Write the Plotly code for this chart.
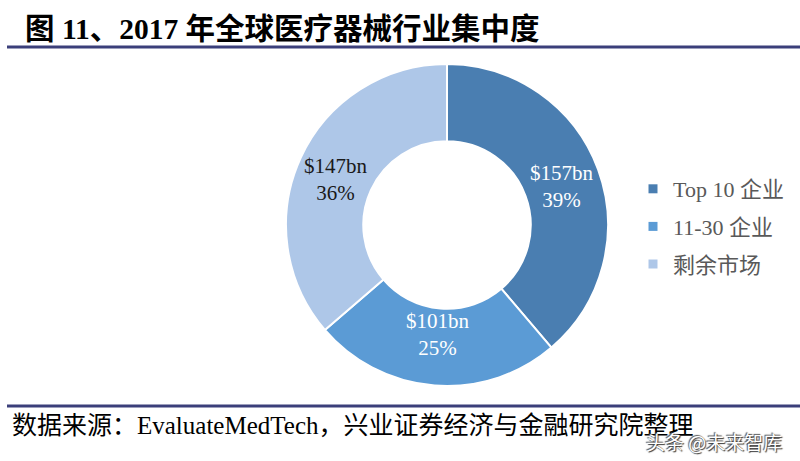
import math
import plotly.graph_objects as go

categories = ["Top 10 企业", "11-30 企业", "剩余市场"]
values = [157, 101, 147]
labels_text = ["$157bn<br>39%", "$101bn<br>25%", "$147bn<br>36%"]
colors = ["#4A7EB1", "#5B9BD5", "#AEC7E8"]
text_colors = ["#FFFFFF", "#FFFFFF", "#1A1A1A"]

W, H = 800, 461
cx, cy, r = 447, 225, 161
HOLE = 0.52
FONT = "Liberation Serif, Noto Sans CJK SC"

fig = go.Figure()
fig.add_trace(go.Pie(
    labels=categories,
    values=values,
    textinfo="none",
    hole=HOLE,
    sort=False,
    direction="clockwise",
    rotation=0,
    showlegend=False,
    marker=dict(colors=colors, line=dict(color="#FFFFFF", width=2)),
    domain=dict(x=[(cx - r) / W, (cx + r) / W], y=[1 - (cy + r) / H, 1 - (cy - r) / H]),
    hoverinfo="label+value+percent",
))

# legend entries (one per category)
for i, (cat, col) in enumerate(zip(categories, colors)):
    fig.add_trace(go.Scatter(
        x=[None], y=[None], mode="markers", name=cat,
        marker=dict(symbol="square", size=9, color=col),
        legendgroup=f"g{i}", showlegend=True, hoverinfo="skip",
    ))

# slice labels placed at each slice's mid-angle, derived from the values
total = sum(values)
label_r = r * 0.76
annotations = []
cum = 0.0
for v, txt, tc in zip(values, labels_text, text_colors):
    mid = (cum + v / 2) / total * 2 * math.pi
    cum += v
    px = cx + label_r * math.sin(mid)
    py = cy - label_r * math.cos(mid) * 0.9
    annotations.append(dict(
        text=txt, xref="paper", yref="paper", x=px / W, y=1 - py / H,
        xanchor="center", yanchor="middle", showarrow=False, align="center",
        font=dict(family=FONT, size=21, color=tc),
    ))

annotations += [
    dict(text="<b>图 11、2017 年全球医疗器械行业集中度</b>", xref="paper", yref="paper",
         x=23 / W, y=1 - 29 / H, xanchor="left", yanchor="middle", showarrow=False,
         font=dict(family=FONT, size=29.5, color="#000000")),
    dict(text="数据来源：EvaluateMedTech，兴业证券经济与金融研究院整理", xref="paper", yref="paper",
         x=10 / W, y=1 - 425 / H, xanchor="left", yanchor="middle", showarrow=False,
         font=dict(family=FONT, size=25, color="#000000")),
    dict(text="头条 @未来智库", xref="paper", yref="paper",
         x=784 / W, y=1 - 441 / H, xanchor="right", yanchor="middle", showarrow=False,
         font=dict(family="Noto Sans CJK SC", size=19, color="#FFFFFF",
                   shadow="1px 1px 1px #333333, -1px -1px 1px #555555")),
]

fig.update_layout(
    width=W, height=H,
    margin=dict(l=0, r=0, t=0, b=0),
    paper_bgcolor="#FFFFFF",
    plot_bgcolor="#FFFFFF",
    xaxis=dict(visible=False),
    yaxis=dict(visible=False),
    legend=dict(
        x=633 / W, y=1 - 168 / H, xanchor="left", yanchor="top",
        font=dict(family=FONT, size=22, color="#595959"),
        itemwidth=30, tracegroupgap=6,
        bgcolor="rgba(0,0,0,0)",
    ),
    shapes=[
        dict(type="line", xref="paper", yref="paper", x0=7 / W, x1=1, y0=1 - 47 / H, y1=1 - 47 / H,
             line=dict(color="#3B3F7A", width=3)),
        dict(type="line", xref="paper", yref="paper", x0=7 / W, x1=1, y0=1 - 406 / H, y1=1 - 406 / H,
             line=dict(color="#3B3F7A", width=3)),
    ],
    annotations=annotations,
)

fig.write_html("out.html", config={"displayModeBar": False},
               post_script="document.body.style.margin='0';document.body.style.padding='0';")
